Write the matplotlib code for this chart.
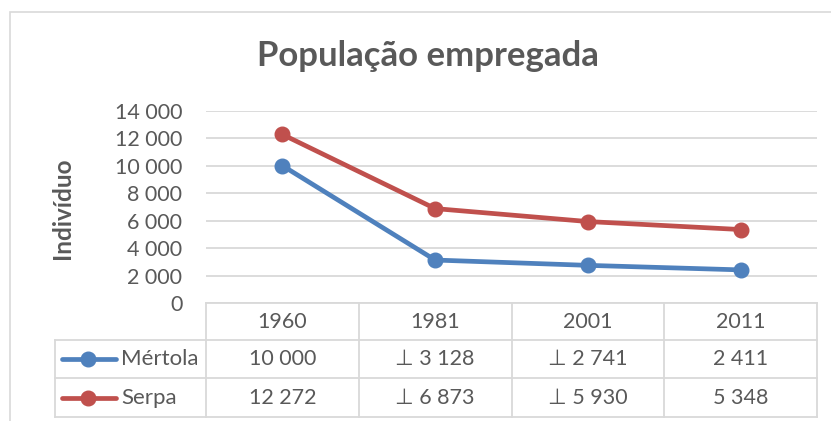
import matplotlib
matplotlib.use("Agg")
import matplotlib.pyplot as plt
from matplotlib.lines import Line2D
from matplotlib.patches import Rectangle

# data
years = ["1960", "1981", "2001", "2011"]
mertola = [10000, 3128, 2741, 2411]
serpa = [12272, 6873, 5930, 5348]
mertola_cells = ["10 000", "\u22a5 3 128", "\u22a5 2 741", "2 411"]
serpa_cells = ["12 272", "\u22a5 6 873", "\u22a5 5 930", "5 348"]
y_ticks = [0, 2000, 4000, 6000, 8000, 10000, 12000, 14000]

blue = "#4F81BD"
red = "#C0504D"
grey_txt = "#595959"
grid_col = "#D9D9D9"
fs = 15.5

plt.rcParams["font.family"] = ["Lato", "DejaVu Sans"]

W, H = 831, 421
fig = plt.figure(figsize=(W / 100, H / 100), dpi=100)

def fx(px):
    return px / W

def fy(py):
    return 1 - py / H

# chart frame
fig.add_artist(Rectangle((fx(10), fy(440)), fx(900), fy(12) - fy(440), transform=fig.transFigure,
                         fill=False, edgecolor=grid_col, linewidth=1.2))

# plot area
left, right, top, bottom = 206, 817, 110.7, 303
ax = fig.add_axes([fx(left), fy(bottom), fx(right - left), fy(top) - fy(bottom)])
x = range(len(years))
ax.plot(x, mertola, color=blue, lw=3.4, marker="o", ms=10.5, solid_capstyle="round", zorder=3)
ax.plot(x, serpa, color=red, lw=3.4, marker="o", ms=10.5, solid_capstyle="round", zorder=3)
ax.set_xlim(-0.5, len(years) - 0.5)
ax.set_ylim(0, 14000)
ax.set_yticks(y_ticks)
ax.set_yticklabels([f"{v:,}".replace(",", " ") for v in y_ticks], fontsize=fs, color=grey_txt)
ax.tick_params(axis="y", length=0, pad=17)
ax.set_xticks([])
ax.grid(axis="y", color=grid_col, lw=1.3)
ax.set_axisbelow(True)
for s in ax.spines.values():
    s.set_visible(False)

fig.text(fx(62), fy(208), "Indivíduo", rotation=90, fontsize=17.5, fontweight="bold",
         color=grey_txt, ha="center", va="center")
fig.text(fx(428), fy(56), "População empregada", fontsize=25, fontweight="bold",
         color=grey_txt, ha="center", va="center")

# data table below
tleft = 55
row_y = [303, 340, 378, 417]
col_x = [left + i * (right - left) / len(years) for i in range(len(years) + 1)]
lw_t = 1.3

def hline(py, x0, x1):
    fig.add_artist(Line2D([fx(x0), fx(x1)], [fy(py), fy(py)], color=grid_col, lw=lw_t))

def vline(px, y0, y1):
    fig.add_artist(Line2D([fx(px), fx(px)], [fy(y0), fy(y1)], color=grid_col, lw=lw_t))

hline(row_y[0], left, right)
for py in row_y[1:]:
    hline(py, tleft, right)
vline(tleft, row_y[1], row_y[3])
for px in col_x:
    vline(px, row_y[0], row_y[3])

rows = [years, mertola_cells, serpa_cells]
for r, cells in enumerate(rows):
    cy = (row_y[r] + row_y[r + 1]) / 2
    for c, txt in enumerate(cells):
        cx = (col_x[c] + col_x[c + 1]) / 2
        fig.text(fx(cx), fy(cy), txt, fontsize=fs, color=grey_txt, ha="center", va="center")

# legend keys in the table
for r, (name, col) in enumerate([("Mértola", blue), ("Serpa", red)], start=1):
    cy = (row_y[r] + row_y[r + 1]) / 2
    fig.add_artist(Line2D([fx(62), fx(116)], [fy(cy), fy(cy)], color=col, lw=3.4,
                          solid_capstyle="round"))
    fig.add_artist(Line2D([fx(88)], [fy(cy)], color=col, marker="o", ms=10.5, lw=0))
    fig.text(fx(121), fy(cy), name, fontsize=16, color=grey_txt, ha="left", va="center")

fig.savefig("out.png", dpi=100)
